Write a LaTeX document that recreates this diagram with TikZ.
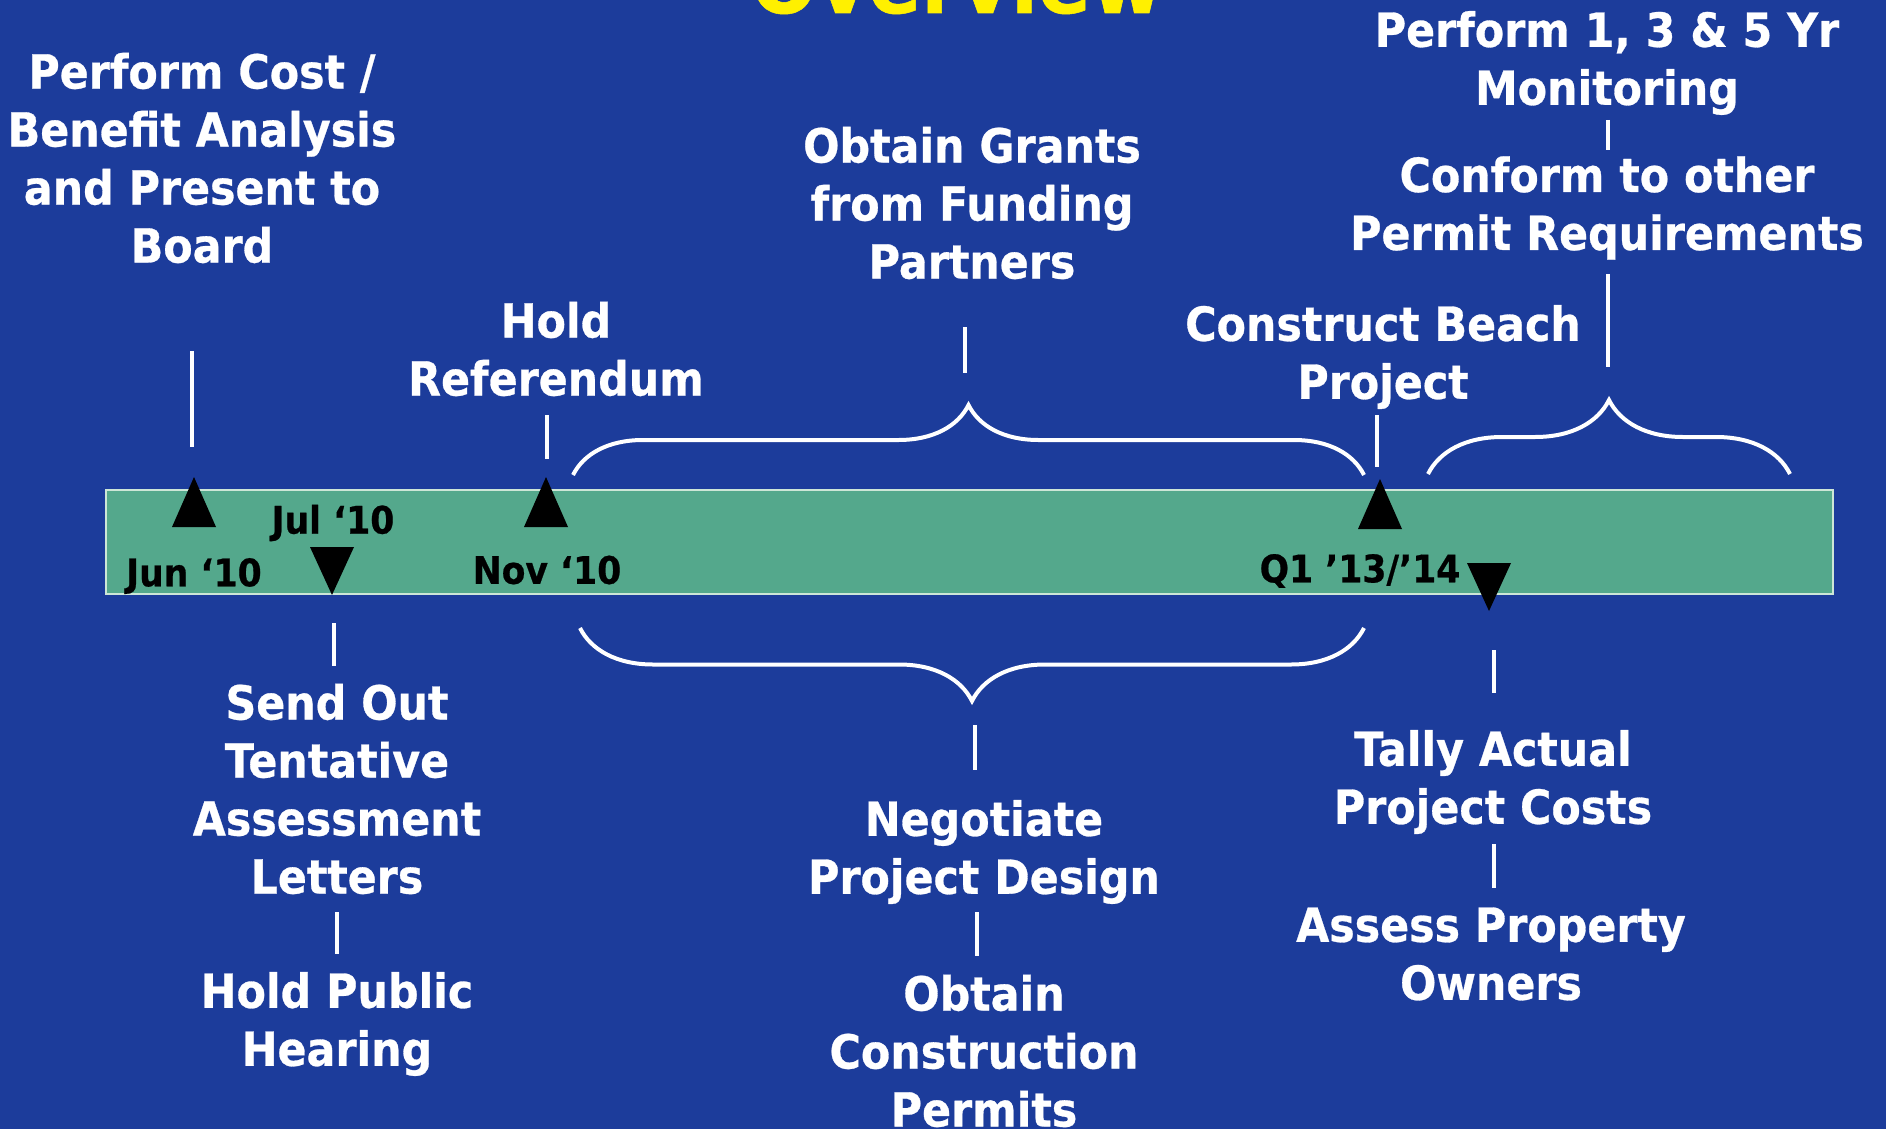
\documentclass[tikz,border=0pt]{standalone}
\usepackage{fontspec}
\newfontfamily\lbl[FakeStretch=0.91,FakeBold=0.6]{DejaVu Sans}
\usetikzlibrary{decorations.pathreplacing}
\definecolor{bgblue}{RGB}{28,60,155}
\definecolor{bargreen}{RGB}{84,168,140}
\definecolor{baredge}{RGB}{205,230,215}
\definecolor{titleyellow}{RGB}{255,240,0}
\begin{document}
\begin{tikzpicture}[x=1pt,y=-1pt,
  task/.style={text=white, align=center, font=\lbl\bfseries\fontsize{47}{58}\selectfont, inner sep=0pt},
  datelbl/.style={text=black, font=\lbl\bfseries\fontsize{38}{44}\selectfont, inner sep=0pt},
  conn/.style={white, line width=4pt},
  brc/.style={white, line width=4pt, decorate, decoration={brace, amplitude=#1}},
  tri/.style={fill=black}]
\useasboundingbox (0,0) rectangle (1886,1129);
\fill[bgblue] (0,0) rectangle (1886,1129);
\begin{scope}
\clip (0,0) rectangle (1886,1129);
\node[anchor=base, text=titleyellow, font=\lbl\bfseries\fontsize{86}{90}\selectfont, inner sep=0pt] (title) at (957,13) {Overview};

% timeline bar
\node[draw=baredge, fill=bargreen, line width=2pt, minimum width=1727pt, minimum height=104pt, inner sep=0pt] (bar) at (969.5,542) {};

% triangles
\coordinate (tJun) at (194,477);
\coordinate (tJul) at (332,595);
\coordinate (tNov) at (546,477);
\coordinate (tQup) at (1380,479);
\coordinate (tQdn) at (1489,611);
\fill[tri] (tJun) -- ++(-22,50) -- ++(44,0) -- cycle;
\fill[tri] (tNov) -- ++(-22,50) -- ++(44,0) -- cycle;
\fill[tri] (tQup) -- ++(-22,50) -- ++(44,0) -- cycle;
\fill[tri] (tJul) -- ++(-22,-48) -- ++(44,0) -- cycle;
\fill[tri] (tQdn) -- ++(-22,-48) -- ++(44,0) -- cycle;

% date labels
\node[datelbl] (dJun) at (194,576) {Jun ‘10};
\node[datelbl] (dJul) at (333,523) {Jul ‘10};
\node[datelbl] (dNov) at (547,570) {Nov ‘10};
\node[datelbl] (dQ) at (1360,571) {Q1 ’13/’14};

% task texts
\node[task] (cost) at (202,158) {Perform Cost /\\Benefit Analysis\\and Present to\\Board};
\node[task] (ref) at (556,349) {Hold\\Referendum};
\node[task] (grants) at (972,203) {Obtain Grants\\from Funding\\Partners};
\node[task] (beach) at (1383,357) {Construct Beach\\Project};
\node[task] (monit) at (1607,63) {Perform 1, 3 \& 5 Yr\\Monitoring};
\node[task] (conform) at (1607,208) {Conform to other\\Permit Requirements};
\node[task] (send) at (337,789) {Send Out\\Tentative\\Assessment\\Letters};
\node[task] (hear) at (337,1024) {Hold Public\\Hearing};
\node[task] (nego) at (984,852) {Negotiate\\Project Design};
\node[task] (perm) at (984,1051) {Obtain\\Construction\\Permits};
\node[task] (tally) at (1493,782) {Tally Actual\\Project Costs};
\node[task] (assess) at (1491,954) {Assess Property\\Owners};

% braces
\coordinate (b1a) at (573,475);
\coordinate (b1b) at (1364,475);
\coordinate (b2a) at (1428,474);
\coordinate (b2b) at (1790,474);
\coordinate (b3a) at (1364,628);
\coordinate (b3b) at (580,628);
\draw[brc=70pt] (b1a) -- (b1b);
\draw[brc=74pt] (b2a) -- (b2b);
\draw[brc=73pt] (b3a) -- (b3b);

% connector lines
\coordinate (c1a) at (192,351);  \coordinate (c1b) at (192,447);
\coordinate (c2a) at (547,415);  \coordinate (c2b) at (547,459);
\coordinate (c3a) at (965,327);  \coordinate (c3b) at (965,373);
\coordinate (c4a) at (1377,415); \coordinate (c4b) at (1377,467);
\coordinate (c5a) at (1608,120); \coordinate (c5b) at (1608,150);
\coordinate (c6a) at (1608,274); \coordinate (c6b) at (1608,367);
\coordinate (c7a) at (334,623);  \coordinate (c7b) at (334,666);
\coordinate (c8a) at (337,912);  \coordinate (c8b) at (337,954);
\coordinate (c9a) at (975,725);  \coordinate (c9b) at (975,770);
\coordinate (c10a) at (977,912); \coordinate (c10b) at (977,956);
\coordinate (c11a) at (1494,650); \coordinate (c11b) at (1494,693);
\coordinate (c12a) at (1494,844); \coordinate (c12b) at (1494,888);
\foreach \i in {1,...,12} {\draw[conn] (c\i a) -- (c\i b);}
\end{scope}
\end{tikzpicture}
\end{document}
